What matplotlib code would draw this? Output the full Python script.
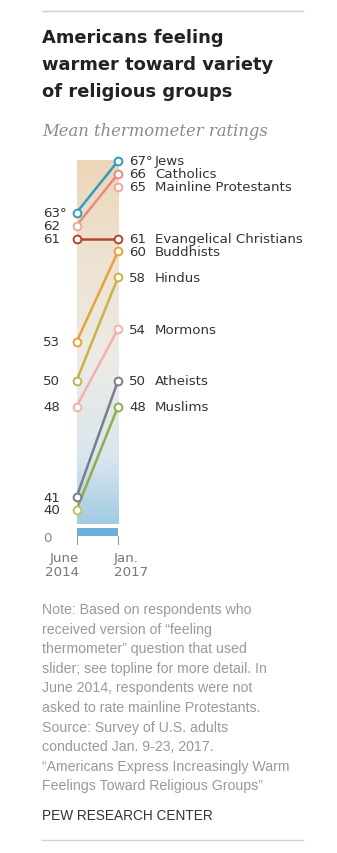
import matplotlib
matplotlib.use('Agg')
import matplotlib.pyplot as plt
import numpy as np
from matplotlib.colors import LinearSegmentedColormap
from matplotlib.patches import Rectangle

# Mean thermometer ratings, June 2014 -> Jan. 2017
groups = ['Jews', 'Catholics', 'Mainline Protestants', 'Evangelical Christians',
          'Buddhists', 'Hindus', 'Mormons', 'Atheists', 'Muslims']
rating_2014 = [63, 62, None, 61, 53, 50, 48, 41, 40]
rating_2017 = [67, 66, 65, 61, 60, 58, 54, 50, 48]
line_colors = ['#2f9dbf', '#e98a7e', '#f0a59d', '#b5452f', '#e9a23b',
               '#c9b14c', '#f2b1ab', '#7c7c8c', '#8fae4b']
left_marker_colors = ['#2f9dbf', '#f0a59d', None, '#b5452f', '#e9a23b',
                      '#c9b14c', '#f2b1ab', '#7c7c8c', '#c9c060']
period_labels = ['June\n2014', 'Jan.\n2017']

W, H = 337, 854
fig = plt.figure(figsize=(W / 100, H / 100), dpi=100)
fig.patch.set_facecolor('white')

SANS = ['Liberation Sans', 'DejaVu Sans']
LABEL = ['DejaVu Sans']


def px(x, y):
    """pixel position (from top-left) -> figure fraction"""
    return x / W, 1 - y / H


def ftext(x, y, s, **kw):
    kw.setdefault('family', SANS)
    fig.text(*px(x, y), s, **kw)


# ── header ───────────────────────────────────────────────────────────────────
fig.add_artist(plt.Line2D([42 / W, 303 / W], [1 - 12 / H] * 2, color='#cfcfcf', lw=1))
for i, line in enumerate(['Americans feeling', 'warmer toward variety',
                          'of religious groups']):
    ftext(42, 43 + i * 27, line, fontsize=12.9, fontweight='bold',
          color='#222222', va='baseline', family=['DejaVu Sans'])
ftext(42, 131, 'Mean thermometer ratings', fontsize=11.8, style='italic',
      color='#8a8a8a', va='center', family=['DejaVu Serif'])

# ── slope chart ──────────────────────────────────────────────────────────────
x0, x1 = 76.5, 118
y_top, y_bot = 162, 511          # pixel rows of 67 and 40
ax = fig.add_axes([x0 / W, 1 - y_bot / H, (x1 - x0) / W, (y_bot - y_top) / H])
ax.set_xlim(0, 1)
ax.set_ylim(40, 67)
ax.axis('off')
per_px = 27 / (y_bot - y_top)
pt = 72 / 100                     # points per pixel

# thermometer gradient behind the lines
grad = LinearSegmentedColormap.from_list(
    'thermo', [(0, '#a2cbe3'), (0.18, '#d9e6ee'), (0.45, '#ecebe6'),
               (0.75, '#eee2d0'), (1, '#ecd6b8')])
g_lo = 40 - (525 - y_bot) * per_px
ax.imshow(np.linspace(0, 1, 256).reshape(-1, 1), cmap=grad, origin='lower',
          extent=[0, 1, g_lo, 67], aspect='auto', zorder=0, clip_on=False)
ax.add_patch(Rectangle((0, 40 - (537 - y_bot) * per_px), 1, (537 - 529) * per_px,
                       facecolor='#6cb0d8', edgecolor='none', clip_on=False, zorder=0))
tick_lo = 40 - (545 - y_bot) * per_px
tick_hi = 40 - (537 - y_bot) * per_px
for xt in (0, 1):
    ax.plot([xt, xt], [tick_lo, tick_hi], color='#9a9a9a', lw=0.8, clip_on=False)

left_off = -(x0 - 43) * pt
ms, mew = 5.6, 1.4
for i, g in enumerate(groups):
    a, b, c = rating_2014[i], rating_2017[i], line_colors[i]
    if a is not None:
        ax.plot([0, 1], [a, b], color=c, lw=1.8, zorder=2, clip_on=False)
        ax.plot(0, a, 'o', ms=ms, mfc='white', mec=left_marker_colors[i], mew=mew,
                zorder=3, clip_on=False)
        lbl = f'{a}°' if i == 0 else f'{a}'
        ax.annotate(lbl, (0, a), xytext=(left_off, 0), textcoords='offset points',
                    ha='left', va='center', fontsize=9.6, color='#333333',
                    family=LABEL, annotation_clip=False)
    ax.plot(1, b, 'o', ms=ms, mfc='white', mec=c, mew=mew, zorder=3, clip_on=False)
    ax.annotate(f'{b}°' if i == 0 else f'{b}', (1, b), xytext=(8, 0),
                textcoords='offset points', ha='left', va='center',
                fontsize=9.6, color='#333333', family=LABEL, annotation_clip=False)
    ax.annotate(g, (1, b), xytext=((155 - x1) * pt, 0), textcoords='offset points',
                ha='left', va='center', fontsize=9.6, color='#333333',
                family=LABEL, annotation_clip=False)

ax.annotate('0', (0, 40 - (538 - y_bot) * per_px), xytext=(left_off, 0),
            textcoords='offset points', ha='left', va='center',
            fontsize=9.6, color='#888888', family=LABEL, annotation_clip=False)
ax.annotate(period_labels[0], (0, tick_lo), xytext=(2, -5), textcoords='offset points',
            ha='right', va='top', fontsize=9.6, color='#777777', family=LABEL,
            linespacing=1.15, multialignment='right', annotation_clip=False)
ax.annotate(period_labels[1], (1, tick_lo), xytext=(-3, -5), textcoords='offset points',
            ha='left', va='top', fontsize=9.6, color='#777777', family=LABEL,
            linespacing=1.15, annotation_clip=False)

# ── footnote ─────────────────────────────────────────────────────────────────
note = ['Note: Based on respondents who',
        'received version of “feeling',
        'thermometer” question that used',
        'slider; see topline for more detail. In',
        'June 2014, respondents were not',
        'asked to rate mainline Protestants.',
        'Source: Survey of U.S. adults',
        'conducted Jan. 9-23, 2017.',
        '“Americans Express Increasingly Warm',
        'Feelings Toward Religious Groups”']
for i, line in enumerate(note):
    ftext(42, 610 + i * 19.6, line, fontsize=10.2, color='#999999', va='center')
ftext(42, 816, 'PEW RESEARCH CENTER', fontsize=9.8, color='#333333', va='center')
fig.add_artist(plt.Line2D([42 / W, 303 / W], [1 - 841 / H] * 2, color='#cfcfcf', lw=1))

fig.savefig('out.png', dpi=100, facecolor='white')
